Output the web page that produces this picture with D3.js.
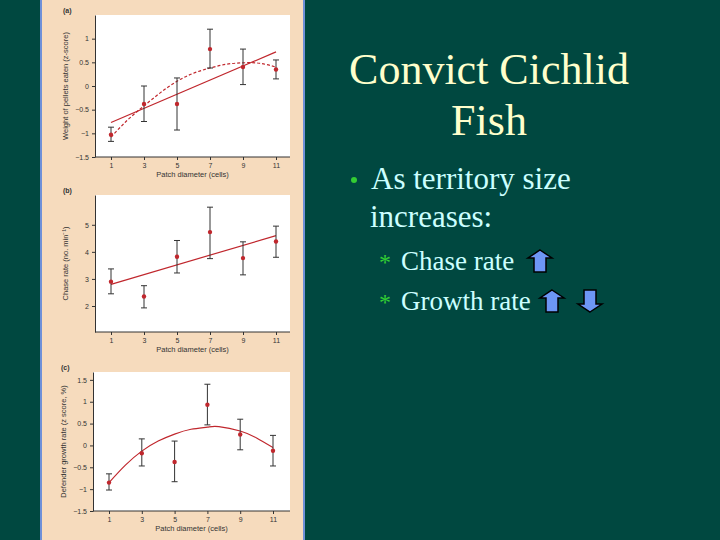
<!DOCTYPE html>
<html><head><meta charset="utf-8">
<script src="https://cdn.jsdelivr.net/npm/d3@7"></script>
<style>body{margin:0;background:#004840}svg{display:block}</style>
</head><body><div id="chart"></div>
<script>
const patch = [1, 3, 5, 7, 9, 11];
// (a) weight of pellets eaten
const aMean = [-1.03, -0.38, -0.38, 0.78, 0.4, 0.35];
const aLo = [-1.17, -0.75, -0.93, 0.38, 0.03, 0.15];
const aHi = [-0.87, 0.0, 0.17, 1.2, 0.78, 0.55];
const aLinX = [1, 11], aLinY = [-0.77, 0.72];
const aQuadX = [1, 2, 3, 4, 5, 6, 7, 8, 9, 10, 11];
const aQuadY = [-1.08, -0.72, -0.42, -0.14, 0.1, 0.27, 0.38, 0.46, 0.49, 0.48, 0.4];
// (b) chase rate
const bMean = [2.9, 2.35, 3.82, 4.73, 3.77, 4.38];
const bLo = [2.45, 1.93, 3.22, 3.75, 3.15, 3.8];
const bHi = [3.37, 2.75, 4.42, 5.65, 4.37, 4.95];
const bLinX = [1, 11], bLinY = [2.8, 4.6];
// (c) defender growth rate
const cMean = [-0.85, -0.18, -0.38, 0.93, 0.25, -0.12];
const cLo = [-1.02, -0.47, -0.83, 0.47, -0.1, -0.47];
const cHi = [-0.65, 0.15, 0.1, 1.4, 0.6, 0.23];
const cQuadX = [1, 2, 3, 4, 5, 6, 7, 7.7, 9, 10, 11];
const cQuadY = [-0.85, -0.45, -0.13, 0.1, 0.26, 0.37, 0.42, 0.43, 0.33, 0.17, -0.05];

const W = 720, H = 540;
const svg = d3.select('#chart').append('svg').attr('width', W).attr('height', H);
svg.append('rect').attr('width', W).attr('height', H).attr('fill', '#004840');
svg.append('rect').attr('x', 41).attr('y', -2).attr('width', 263).attr('height', H + 4)
  .attr('fill', '#f6dbbd').attr('stroke', '#6f90d8').attr('stroke-width', 2);

const red = '#c0272d';
function panel(o) {
  const g = svg.append('g');
  g.append('rect').attr('x', o.x0).attr('y', o.y0).attr('width', o.x1 - o.x0).attr('height', o.y1 - o.y0).attr('fill', '#fff');
  const x = d3.scaleLinear().domain([1, 11]).range([o.xa, o.xb]);
  const y = d3.scaleLinear().domain(o.dom).range([o.y1, o.y0]);
  g.append('g').attr('transform', `translate(0,${o.y1})`)
    .call(d3.axisBottom(x).tickValues(patch).tickSize(3).tickSizeOuter(0));
  g.append('g').attr('transform', `translate(${o.x0},0)`)
    .call(d3.axisLeft(y).tickValues(o.ticks).tickSize(3).tickSizeOuter(0).tickFormat(d => String(d).replace('-', '\u2212')));
  g.selectAll('.domain').attr('stroke', '#333');
  g.selectAll('.tick line').attr('stroke', '#333');
  g.selectAll('.tick text').attr('font-size', 7).attr('font-family', 'Liberation Sans, Arial').attr('fill', '#333');
  g.select('.domain').remove();
  g.append('line').attr('x1', o.x0).attr('x2', o.x1).attr('y1', o.y1).attr('y2', o.y1).attr('stroke', '#333');
  g.append('text').attr('x', (o.x0 + o.x1) / 2).attr('y', o.y1 + 20).attr('text-anchor', 'middle')
    .attr('font-size', 7.5).attr('font-family', 'Liberation Sans, Arial').attr('fill', '#333').text(o.xlab);
  g.append('text').attr('transform', `translate(${o.x0 - 27},${(o.y0 + o.y1) / 2}) rotate(-90)`).attr('text-anchor', 'middle')
    .attr('font-size', 7.5).attr('font-family', 'Liberation Sans, Arial').attr('fill', '#333').text(o.ylab);
  g.append('text').attr('x', o.x0 - 32).attr('y', o.y0 - 2).attr('font-size', 7).attr('font-weight', 'bold')
    .attr('font-family', 'Liberation Sans, Arial').attr('fill', '#333').text(o.tag);
  const line = d3.line().x(d => x(d[0])).y(d => y(d[1]));
  o.curves.forEach(c => {
    g.append('path').datum(d3.zip(c.xs, c.ys)).attr('d', c.smooth ? line.curve(d3.curveNatural) : line.curve(d3.curveLinear))
      .attr('fill', 'none').attr('stroke', red).attr('stroke-width', 1.2).attr('stroke-dasharray', c.dash || null);
  });
  patch.forEach((p, i) => {
    g.append('line').attr('x1', x(p)).attr('x2', x(p)).attr('y1', y(o.lo[i])).attr('y2', y(o.hi[i])).attr('stroke', '#333');
    [o.lo[i], o.hi[i]].forEach(v => g.append('line').attr('x1', x(p) - 3).attr('x2', x(p) + 3).attr('y1', y(v)).attr('y2', y(v)).attr('stroke', '#333'));
    g.append('circle').attr('cx', x(p)).attr('cy', y(o.mean[i])).attr('r', 2.2).attr('fill', red);
  });
}

panel({x0: 95, x1: 290, y0: 15, y1: 157, xa: 111, xb: 276, dom: [-1.5, 1.5], ticks: [-1.5, -1, -0.5, 0, 0.5, 1],
  mean: aMean, lo: aLo, hi: aHi, tag: '(a)', xlab: 'Patch diameter (cells)', ylab: 'Weight of pellets eaten (z-score)',
  curves: [{xs: aLinX, ys: aLinY}, {xs: aQuadX, ys: aQuadY, smooth: true, dash: '3,2'}]});
panel({x0: 95, x1: 290, y0: 195, y1: 332, xa: 111, xb: 276, dom: [1.04, 6.1], ticks: [2, 3, 4, 5],
  mean: bMean, lo: bLo, hi: bHi, tag: '(b)', xlab: 'Patch diameter (cells)', ylab: 'Chase rate (no. min\u207B\u00B9)',
  curves: [{xs: bLinX, ys: bLinY}]});
panel({x0: 93, x1: 290, y0: 372, y1: 511, xa: 109, xb: 273, dom: [-1.5, 1.68], ticks: [-1.5, -1, -0.5, 0, 0.5, 1, 1.5],
  mean: cMean, lo: cLo, hi: cHi, tag: '(c)', xlab: 'Patch diameter (cells)', ylab: 'Defender growth rate (z score, %)',
  curves: [{xs: cQuadX, ys: cQuadY, smooth: true}]});

const serif = 'Liberation Serif, Times New Roman, serif';
svg.append('text').attr('x', 489).attr('y', 84).attr('text-anchor', 'middle').attr('font-family', serif).attr('font-size', 44).attr('fill', '#ffffcc').text('Convict Cichlid');
svg.append('text').attr('x', 489).attr('y', 135).attr('text-anchor', 'middle').attr('font-family', serif).attr('font-size', 44).attr('fill', '#ffffcc').text('Fish');
svg.append('circle').attr('cx', 354).attr('cy', 180).attr('r', 3).attr('fill', '#33cc33');
svg.append('text').attr('x', 371).attr('y', 189).attr('font-family', serif).attr('font-size', 31).attr('fill', '#ccffff').text('As territory size');
svg.append('text').attr('x', 370).attr('y', 227).attr('font-family', serif).attr('font-size', 31).attr('fill', '#ccffff').text('increases:');
[['Chase rate', 270], ['Growth rate', 310]].forEach(([t, yy]) => {
  svg.append('text').attr('x', 379).attr('y', yy).attr('font-family', serif).attr('font-size', 24).attr('fill', '#33cc33').text('*');
  svg.append('text').attr('x', 401).attr('y', yy).attr('font-family', serif).attr('font-size', 27).attr('fill', '#ccffff').text(t);
});
function arrow(cx, top, up) {
  const w = 12, sw = 6, hh = 8, h = 22;
  let pts = [[0, 0], [w, hh], [sw, hh], [sw, h], [-sw, h], [-sw, hh], [-w, hh]];
  if (!up) pts = pts.map(([a, b]) => [a, h - b]);
  svg.append('path').attr('d', d3.line()(pts.map(([a, b]) => [cx + a, top + b])) + 'Z')
    .attr('fill', '#6d96f5').attr('stroke', '#000').attr('stroke-width', 1.5);
}
arrow(540, 250, true);
arrow(552, 290, true);
arrow(590, 290, false);
</script></body></html>
